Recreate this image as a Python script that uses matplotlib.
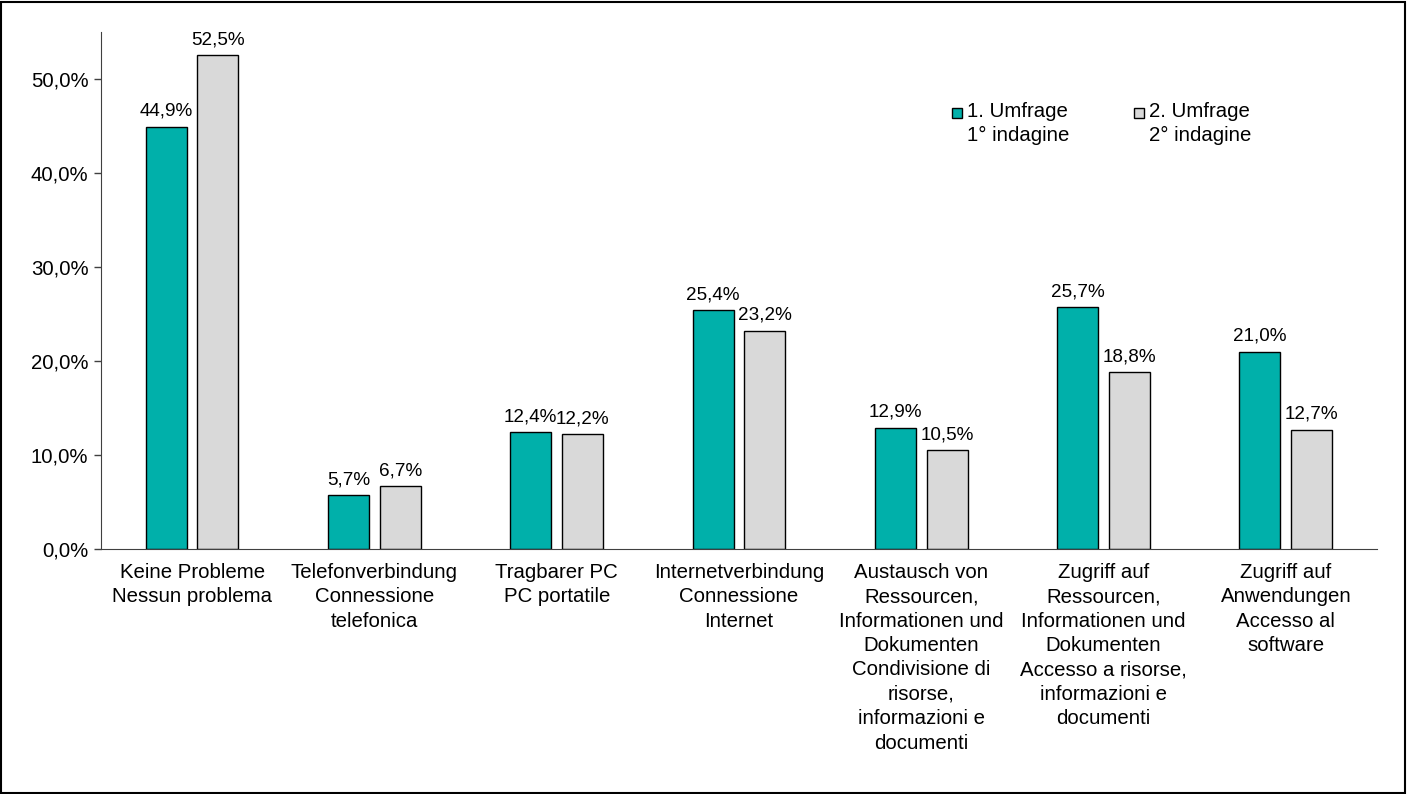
import matplotlib
matplotlib.use("Agg")
import matplotlib.pyplot as plt
from matplotlib.patches import Rectangle
import numpy as np

categories = [
    "Keine Probleme\nNessun problema",
    "Telefonverbindung\nConnessione\ntelefonica",
    "Tragbarer PC\nPC portatile",
    "Internetverbindung\nConnessione\nInternet",
    "Austausch von\nRessourcen,\nInformationen und\nDokumenten\nCondivisione di\nrisorse,\ninformazioni e\ndocumenti",
    "Zugriff auf\nRessourcen,\nInformationen und\nDokumenten\nAccesso a risorse,\ninformazioni e\ndocumenti",
    "Zugriff auf\nAnwendungen\nAccesso al\nsoftware",
]
survey1 = [44.9, 5.7, 12.4, 25.4, 12.9, 25.7, 21.0]
survey2 = [52.5, 6.7, 12.2, 23.2, 10.5, 18.8, 12.7]
series_labels = ["1. Umfrage\n1° indagine", "2. Umfrage\n2° indagine"]
colors = ["#00B0AA", "#D9D9D9"]
yticks = [0, 10, 20, 30, 40, 50]

plt.rcParams['font.family'] = ['Liberation Sans', 'DejaVu Sans']
FS = 14.7
FS_VAL = 13.6

fig = plt.figure(figsize=(14.08, 7.94), dpi=100)
ax = fig.add_axes([0.0717, 0.3086, 0.978 - 0.0717, 0.9597 - 0.3086])

x = np.arange(len(categories))
w = 0.225
off = 0.142
b1 = ax.bar(x - off, survey1, w, color=colors[0], edgecolor="black", linewidth=1.0)
b2 = ax.bar(x + off, survey2, w, color=colors[1], edgecolor="black", linewidth=1.0)

def fmt(v):
    return f"{v:.1f}%".replace(".", ",")

for bars, vals in ((b1, survey1), (b2, survey2)):
    for r, v in zip(bars, vals):
        ax.annotate(fmt(v), (r.get_x() + r.get_width() / 2, v),
                    xytext=(0, 5), textcoords="offset points",
                    ha="center", va="bottom", fontsize=FS_VAL)

ax.set_xlim(-0.5, len(categories) - 0.5)
ax.set_ylim(0, 55)
ax.set_yticks(yticks)
ax.set_yticklabels([f"{t:.1f}%".replace(".", ",") for t in yticks], fontsize=FS)
ax.set_xticks(x)
ax.set_xticklabels(categories, fontsize=FS, linespacing=1.36)
ax.tick_params(axis="x", length=0, pad=10)
ax.tick_params(axis="y", length=5, width=1, color="#404040", direction="out", pad=4)
for s in ("top", "right"):
    ax.spines[s].set_visible(False)
ax.spines["left"].set_color("#404040")
ax.spines["bottom"].set_color("#404040")

# legend drawn manually (marker aligned to first line)
lx = [952 / 1408, 1134 / 1408]
for i in range(2):
    fig.patches.append(Rectangle((lx[i], 1 - 118 / 794), 10 / 1408, 10 / 794,
                                 transform=fig.transFigure, facecolor=colors[i],
                                 edgecolor="black", linewidth=1.0))
    fig.text(lx[i] + 15 / 1408, 1 - 102 / 794, series_labels[i], fontsize=FS,
             ha="left", va="top", linespacing=1.36)

# figure border
fig.patches.append(Rectangle((0.001, 0.0015), 0.997, 0.996, transform=fig.transFigure,
                             fill=False, edgecolor="black", linewidth=1.5))

fig.savefig("out.png", dpi=100)
